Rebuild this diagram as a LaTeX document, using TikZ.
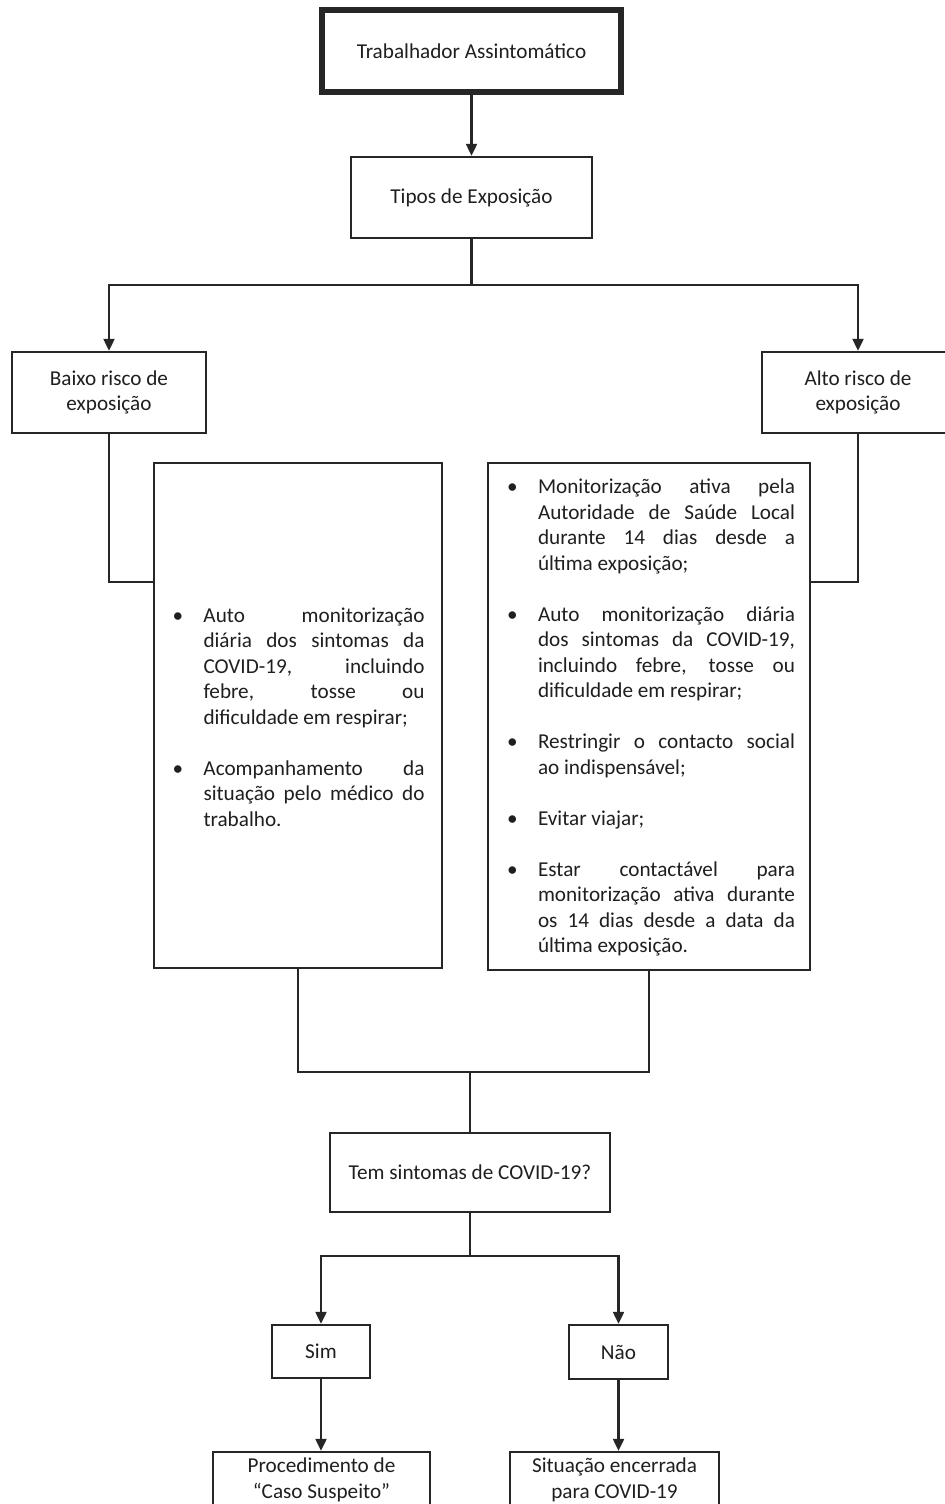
\documentclass[tikz,border=0pt]{standalone}
\usepackage{fontspec}
\setmainfont{Carlito}
\usetikzlibrary{arrows.meta}
\newcommand\jline[1]{\makebox[\dimexpr\hsize-15.5pt\relax][s]{#1}\\}
\newcommand\bul{\noindent\hangindent=15.5pt\hangafter=1\makebox[15.5pt][l]{\textbullet}}
\begin{document}
\begin{tikzpicture}[x=0.5pt,y=-0.5pt,
  txt/.style={font=\fontsize{10.6}{12.75}\selectfont, text=black!88},
  box/.style={draw=black!85, line width=1.2pt, inner sep=0pt, txt, align=center},
  conn/.style={draw=black!85, line width=1.1pt},
  arr/.style={conn, -{Triangle[width=5.5pt,length=6pt]}}]
\clip (0,0) rectangle (945,1504);
\fill[white] (0,0) rectangle (945,1504);

\node[box, line width=3pt, minimum width=149.5pt, minimum height=41pt] (top) at (471.5,51) {Trabalhador Assintomático};
\node[box, minimum width=120.5pt, minimum height=40.5pt] (tipos) at (471.5,197.5) {Tipos de Exposição};
\node[box, minimum width=97pt, minimum height=40.5pt] (baixo) at (109,392.5) {Baixo risco de\\exposição};
\node[box, minimum width=96pt, minimum height=40.5pt] (alto) at (858,392.5) {Alto risco de\\exposição};

\node[box, minimum width=144pt, minimum height=252.5pt] (lbox) at (298,715.5) {};
\node[txt, text width=126pt, inner sep=0pt, align=justify] (ltext) at (298.5,717) {%
\bul\jline{Auto monitorização}\jline{diária dos sintomas da}\jline{COVID-19, incluindo}\jline{febre, tosse ou}dificuldade em respirar;\par
\vspace{12.75pt}
\bul\jline{Acompanhamento da}\jline{situação pelo médico do}trabalho.\par};

\node[box, minimum width=161pt, minimum height=253.5pt] (rbox) at (649,716.5) {};
\node[txt, text width=144pt, inner sep=0pt, align=justify] (rtext) at (651,717.5) {%
\bul\jline{Monitorização ativa pela}\jline{Autoridade de Saúde Local}\jline{durante 14 dias desde a}última exposição;\par
\vspace{12.75pt}
\bul\jline{Auto monitorização diária}\jline{dos sintomas da COVID-19,}\jline{incluindo febre, tosse ou}dificuldade em respirar;\par
\vspace{12.75pt}
\bul\jline{Restringir o contacto social}ao indispensável;\par
\vspace{12.75pt}
\bul Evitar viajar;\par
\vspace{12.75pt}
\bul\jline{Estar contactável para}\jline{monitorização ativa durante}\jline{os 14 dias desde a data da}última exposição.\par};

\node[box, minimum width=140pt, minimum height=39.5pt] (tem) at (470,1172.5) {Tem sintomas de COVID-19?};
\node[box, minimum width=49pt, minimum height=26.5pt] (sim) at (321,1351.5) {Sim};
\node[box, minimum width=49.5pt, minimum height=27pt] (nao) at (618.5,1352) {Não};
\node[box, minimum width=108.5pt, minimum height=28pt] (proc) at (321.5,1480) {Procedimento de\\“Caso Suspeito”};
\node[box, minimum width=104.5pt, minimum height=28pt] (sit) at (614.5,1480) {Situação encerrada\\para COVID-19};

\coordinate (j1) at (471.5,285);
\coordinate (lj) at (154,582);
\coordinate (rj) at (810,582);
\coordinate (mb) at (470,1072);
\coordinate (j2) at (470,1256);

\draw[arr] (top) -- (tipos);
\draw[conn] (tipos.south) -- (j1);
\draw[arr] (j1) -| (baixo.north);
\draw[arr] (j1) -| (alto.north);
\draw[conn] (baixo.south) |- (lj);
\draw[conn] (alto.south) |- (rj);
\draw[conn] (lbox.south) |- (mb) -| (rbox.south);
\draw[conn] (mb) -- (tem.north);
\draw[conn] (tem.south) -- (j2);
\draw[arr] (j2) -| (sim.north);
\draw[arr] (j2) -| (nao.north);
\draw[arr] (sim.south) -- (sim.south |- proc.north);
\draw[arr] (nao.south) -- (nao.south |- sit.north);
\end{tikzpicture}
\end{document}
